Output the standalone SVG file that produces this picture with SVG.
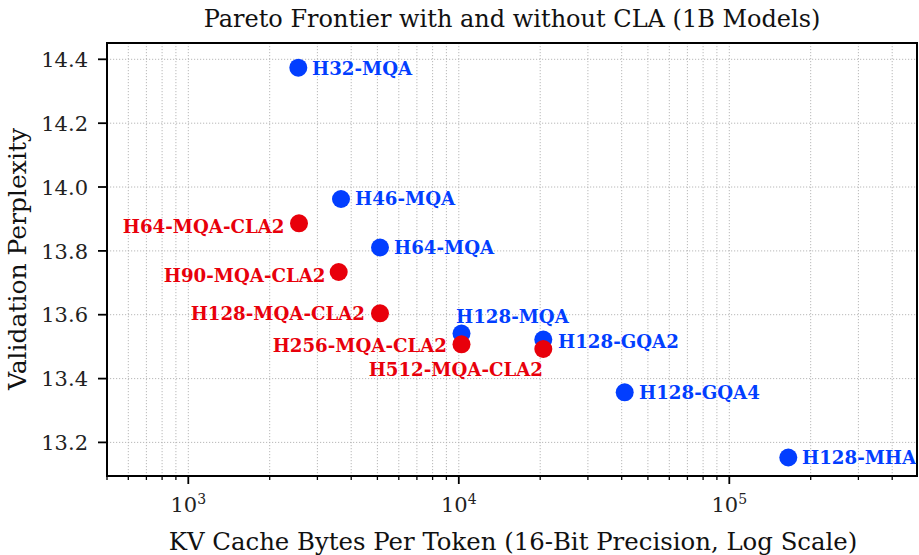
<svg xmlns="http://www.w3.org/2000/svg" width="919" height="555" viewBox="0 0 919 555">
<style>
.grid{stroke:#b0b0b0;stroke-width:0.9;stroke-dasharray:1.2 1.8;fill:none}
.spine{stroke:#000;stroke-width:2;fill:none}
.tick{stroke:#000;stroke-width:1.8}
.mtick{stroke:#000;stroke-width:1.3}
.tl{font-family:"DejaVu Serif","Liberation Serif",serif;font-size:21px;fill:#222}
.ax{font-family:"DejaVu Serif","Liberation Serif",serif;font-size:24.4px;fill:#111}
.lbl{font-family:"DejaVu Serif","Liberation Serif",serif;font-size:18.2px;font-weight:bold}
.b{fill:#023eff}
.r{fill:#e8000b}
</style>
<rect width="919" height="555" fill="#fff"/>
<text x="512" y="27" text-anchor="middle" class="ax" style="font-size:24px">Pareto Frontier with and without CLA (1B Models)</text>
<g id="grid">
<line class="grid" x1="128.3" y1="43" x2="128.3" y2="476"/>
<line class="grid" x1="146.4" y1="43" x2="146.4" y2="476"/>
<line class="grid" x1="162.1" y1="43" x2="162.1" y2="476"/>
<line class="grid" x1="175.9" y1="43" x2="175.9" y2="476"/>
<line class="grid" x1="188.3" y1="43" x2="188.3" y2="476"/>
<line class="grid" x1="269.7" y1="43" x2="269.7" y2="476"/>
<line class="grid" x1="317.4" y1="43" x2="317.4" y2="476"/>
<line class="grid" x1="351.2" y1="43" x2="351.2" y2="476"/>
<line class="grid" x1="377.4" y1="43" x2="377.4" y2="476"/>
<line class="grid" x1="398.8" y1="43" x2="398.8" y2="476"/>
<line class="grid" x1="416.9" y1="43" x2="416.9" y2="476"/>
<line class="grid" x1="432.6" y1="43" x2="432.6" y2="476"/>
<line class="grid" x1="446.4" y1="43" x2="446.4" y2="476"/>
<line class="grid" x1="458.8" y1="43" x2="458.8" y2="476"/>
<line class="grid" x1="540.2" y1="43" x2="540.2" y2="476"/>
<line class="grid" x1="587.9" y1="43" x2="587.9" y2="476"/>
<line class="grid" x1="621.7" y1="43" x2="621.7" y2="476"/>
<line class="grid" x1="647.9" y1="43" x2="647.9" y2="476"/>
<line class="grid" x1="669.3" y1="43" x2="669.3" y2="476"/>
<line class="grid" x1="687.4" y1="43" x2="687.4" y2="476"/>
<line class="grid" x1="703.1" y1="43" x2="703.1" y2="476"/>
<line class="grid" x1="716.9" y1="43" x2="716.9" y2="476"/>
<line class="grid" x1="729.3" y1="43" x2="729.3" y2="476"/>
<line class="grid" x1="810.7" y1="43" x2="810.7" y2="476"/>
<line class="grid" x1="858.4" y1="43" x2="858.4" y2="476"/>
<line class="grid" x1="892.2" y1="43" x2="892.2" y2="476"/>
<line class="grid" x1="107" y1="59.3" x2="917" y2="59.3"/>
<line class="grid" x1="107" y1="123.2" x2="917" y2="123.2"/>
<line class="grid" x1="107" y1="187" x2="917" y2="187"/>
<line class="grid" x1="107" y1="250.9" x2="917" y2="250.9"/>
<line class="grid" x1="107" y1="314.7" x2="917" y2="314.7"/>
<line class="grid" x1="107" y1="378.6" x2="917" y2="378.6"/>
<line class="grid" x1="107" y1="442.4" x2="917" y2="442.4"/>
</g>
<g id="axes">
<rect class="spine" x="107" y="43" width="810" height="433"/>
<g id="yticks">
<line class="tick" x1="98" y1="59.3" x2="107" y2="59.3"/>
<line class="tick" x1="98" y1="123.2" x2="107" y2="123.2"/>
<line class="tick" x1="98" y1="187" x2="107" y2="187"/>
<line class="tick" x1="98" y1="250.9" x2="107" y2="250.9"/>
<line class="tick" x1="98" y1="314.7" x2="107" y2="314.7"/>
<line class="tick" x1="98" y1="378.6" x2="107" y2="378.6"/>
<line class="tick" x1="98" y1="442.4" x2="107" y2="442.4"/>
<text class="tl" text-anchor="end" x="88" y="67">14.4</text>
<text class="tl" text-anchor="end" x="88" y="131">14.2</text>
<text class="tl" text-anchor="end" x="88" y="194.7">14.0</text>
<text class="tl" text-anchor="end" x="88" y="258.6">13.8</text>
<text class="tl" text-anchor="end" x="88" y="322.4">13.6</text>
<text class="tl" text-anchor="end" x="88" y="386.3">13.4</text>
<text class="tl" text-anchor="end" x="88" y="450.1">13.2</text>
</g>
<g id="xticks">
<line class="mtick" x1="107" y1="476" x2="107" y2="480"/>
<line class="mtick" x1="128.3" y1="476" x2="128.3" y2="480"/>
<line class="mtick" x1="146.4" y1="476" x2="146.4" y2="480"/>
<line class="mtick" x1="162.1" y1="476" x2="162.1" y2="480"/>
<line class="mtick" x1="175.9" y1="476" x2="175.9" y2="480"/>
<line class="tick" x1="188.3" y1="476" x2="188.3" y2="484"/>
<line class="mtick" x1="269.7" y1="476" x2="269.7" y2="480"/>
<line class="mtick" x1="317.4" y1="476" x2="317.4" y2="480"/>
<line class="mtick" x1="351.2" y1="476" x2="351.2" y2="480"/>
<line class="mtick" x1="377.4" y1="476" x2="377.4" y2="480"/>
<line class="mtick" x1="398.8" y1="476" x2="398.8" y2="480"/>
<line class="mtick" x1="416.9" y1="476" x2="416.9" y2="480"/>
<line class="mtick" x1="432.6" y1="476" x2="432.6" y2="480"/>
<line class="mtick" x1="446.4" y1="476" x2="446.4" y2="480"/>
<line class="tick" x1="458.8" y1="476" x2="458.8" y2="484"/>
<line class="mtick" x1="540.2" y1="476" x2="540.2" y2="480"/>
<line class="mtick" x1="587.9" y1="476" x2="587.9" y2="480"/>
<line class="mtick" x1="621.7" y1="476" x2="621.7" y2="480"/>
<line class="mtick" x1="647.9" y1="476" x2="647.9" y2="480"/>
<line class="mtick" x1="669.3" y1="476" x2="669.3" y2="480"/>
<line class="mtick" x1="687.4" y1="476" x2="687.4" y2="480"/>
<line class="mtick" x1="703.1" y1="476" x2="703.1" y2="480"/>
<line class="mtick" x1="716.9" y1="476" x2="716.9" y2="480"/>
<line class="tick" x1="729.3" y1="476" x2="729.3" y2="484"/>
<line class="mtick" x1="810.7" y1="476" x2="810.7" y2="480"/>
<line class="mtick" x1="858.4" y1="476" x2="858.4" y2="480"/>
<line class="mtick" x1="892.2" y1="476" x2="892.2" y2="480"/>
<text class="tl" text-anchor="middle" x="188.3" y="512">10<tspan dy="-8.5" font-size="14">3</tspan></text>
<text class="tl" text-anchor="middle" x="458.8" y="512">10<tspan dy="-8.5" font-size="14">4</tspan></text>
<text class="tl" text-anchor="middle" x="729.3" y="512">10<tspan dy="-8.5" font-size="14">5</tspan></text>
</g>
<text class="ax" text-anchor="middle" x="513" y="550">KV Cache Bytes Per Token (16-Bit Precision, Log Scale)</text>
<text class="ax" text-anchor="middle" transform="translate(26,259) rotate(-90)" style="font-size:25px">Validation Perplexity</text>
</g>
<g id="connectors"></g>
<g id="H32-MQA"><circle class="b" cx="298.3" cy="67.7" r="9"/><text class="lbl b" x="312" y="75">H32-MQA</text></g>
<g id="H46-MQA"><circle class="b" cx="341" cy="199" r="9"/><text class="lbl b" x="355" y="205">H46-MQA</text></g>
<g id="H64-MQA"><circle class="b" cx="380" cy="247.5" r="9"/><text class="lbl b" x="394" y="254">H64-MQA</text></g>
<g id="H128-MQA"><circle class="b" cx="461.5" cy="333.5" r="9"/><text class="lbl b" x="456" y="323">H128-MQA</text></g>
<g id="H128-GQA2"><circle class="b" cx="543.3" cy="339.5" r="9"/><text class="lbl b" x="558" y="347.5">H128-GQA2</text></g>
<g id="H128-GQA4"><circle class="b" cx="624.7" cy="392.3" r="9"/><text class="lbl b" x="639" y="398.5">H128-GQA4</text></g>
<g id="H128-MHA"><circle class="b" cx="788.3" cy="457.5" r="9"/><text class="lbl b" x="802" y="464">H128-MHA</text></g>
<g id="H64-MQA-CLA2"><circle class="r" cx="299" cy="223.3" r="9"/><text class="lbl r" text-anchor="end" x="284.5" y="233">H64-MQA-CLA2</text></g>
<g id="H90-MQA-CLA2"><circle class="r" cx="338.7" cy="272" r="9"/><text class="lbl r" text-anchor="end" x="325.5" y="282">H90-MQA-CLA2</text></g>
<g id="H128-MQA-CLA2"><circle class="r" cx="380" cy="313.3" r="9"/><text class="lbl r" text-anchor="end" x="365" y="319.5">H128-MQA-CLA2</text></g>
<g id="H256-MQA-CLA2"><circle class="r" cx="461.5" cy="344.3" r="9"/><text class="lbl r" text-anchor="end" x="447" y="351.5">H256-MQA-CLA2</text></g>
<g id="H512-MQA-CLA2"><circle class="r" cx="543.3" cy="349" r="9"/><text class="lbl r" text-anchor="end" x="543" y="376">H512-MQA-CLA2</text></g>
</svg>
